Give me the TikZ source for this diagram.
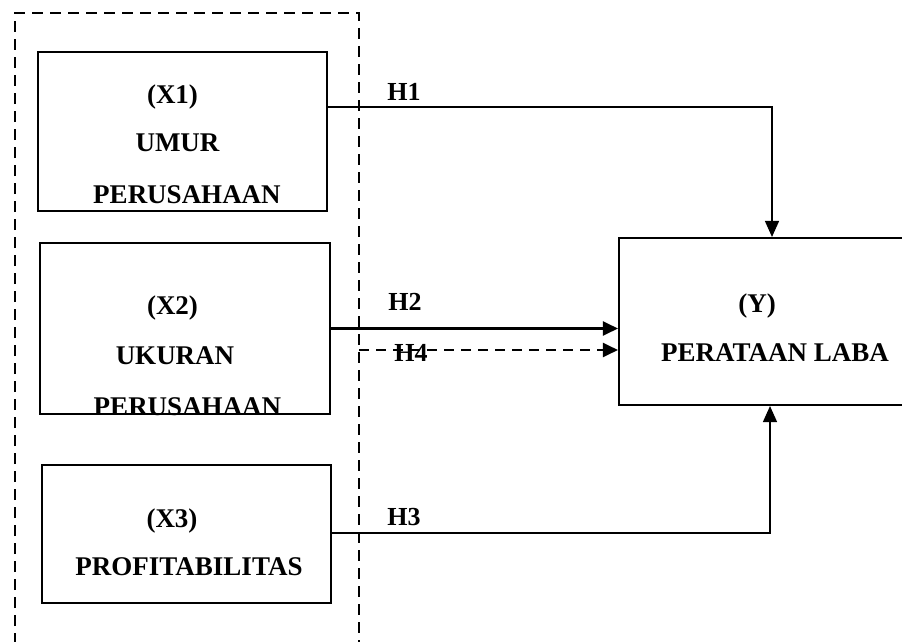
\documentclass[tikz,border=0pt]{standalone}
\usepackage{fontspec}
\setmainfont{Liberation Serif}
\usetikzlibrary{arrows.meta}
\begin{document}
\begin{tikzpicture}[x=1pt,y=-1pt,
  box/.style={draw,line width=2.1pt,minimum width=#1,inner sep=0pt},
  lbl/.style={anchor=base,inner sep=0pt,font=\fontsize{27}{30}\selectfont\bfseries},
  hl/.style={anchor=base,inner sep=0pt,font=\fontsize{26}{30}\selectfont\bfseries},
  conn/.style={line width=1.4pt,-{Triangle[length=16pt,width=14pt]}},
  thick conn/.style={line width=2.2pt,-{Triangle[length=15pt,width=14pt]}},
  dconn/.style={line width=2pt,dash pattern=on 10pt off 7pt,-{Triangle[length=15pt,width=14pt]}},
  grp/.style={line width=2pt,dash pattern=on 11pt off 7pt}]
\clip (0,0) rectangle (902,642);
\fill[white] (0,0) rectangle (902,642);
% dashed group
\draw[grp] (15,680) -- (15,13) -- (359,13) -- (359,680);
% boxes
\node[box=289pt,minimum height=159pt] (x1) at (182.5,131.5) {};
\node[box=290pt,minimum height=171pt] (x2) at (185,328.5) {};
\node[box=289pt,minimum height=138pt] (x3) at (186.5,534) {};
\node[box=321pt,minimum height=167pt] (y) at (779.5,321.5) {};
% texts
\node[lbl] (t1a) at (172.5,103) {(X1)};
\node[lbl] (t1b) at (177.5,151.5) {UMUR};
\node[lbl] (t1c) at (187,203) {PERUSAHAAN};
\node[lbl] (t2a) at (172.5,314) {(X2)};
\node[lbl] (t2b) at (175,364) {UKURAN};
\node[lbl] (t2c) at (187.5,415) {PERUSAHAAN};
\node[lbl] (t3a) at (172,527) {(X3)};
\node[lbl] (t3b) at (189,575) {PROFITABILITAS};
\node[lbl] (tya) at (757,312) {(Y)};
\node[lbl] (tyb) at (775,361.5) {PERATAAN LABA};
% hypothesis labels
\node[hl] (h1) at (404,100) {H1};
\node[hl] (h2) at (405,310) {H2};
\node[hl] (h4) at (411,361) {H4};
\node[hl] (h3) at (404,525) {H3};
% connectors
\coordinate (c1) at (772,107);
\coordinate (c3) at (770,533);
\coordinate (c4) at (359,350);
\draw[conn] (x1.east |- c1) -- (c1) -- (c1 |- y.north);
\draw[thick conn] (x2.east) -- (y.west |- x2.east);
\draw[dconn] (c4) -- (y.west |- c4);
\draw[conn] (x3.east |- c3) -- (c3) -- (c3 |- y.south);
\end{tikzpicture}
\end{document}
